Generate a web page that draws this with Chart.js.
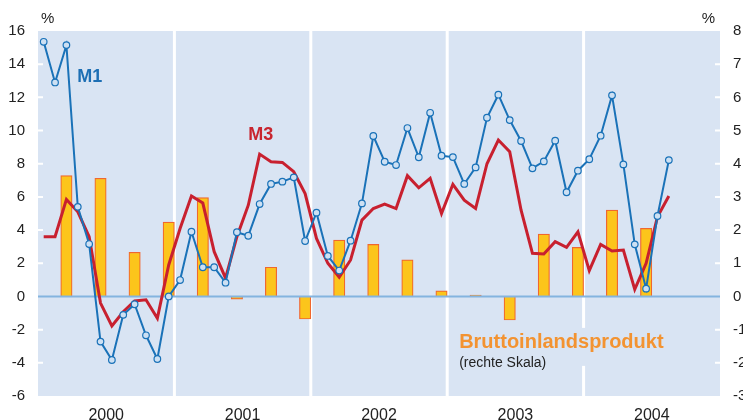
<!DOCTYPE html>
<html>
<head>
<meta charset="utf-8">
<script src="https://cdn.jsdelivr.net/npm/chart.js@4.4.1/dist/chart.umd.min.js"></script>
<style>
  html, body { margin: 0; padding: 0; background: #fff; }
  #wrap { width: 743px; height: 420px; }
</style>
</head>
<body>
<div id="wrap"><canvas id="chart"></canvas></div>
<script>
// years on the x axis (monthly categories, Jan 2000 - Dec 2004)
const years = ["2000", "2001", "2002", "2003", "2004"];
const months = ["Jan", "Feb", "Mär", "Apr", "Mai", "Jun", "Jul", "Aug", "Sep", "Okt", "Nov", "Dez"];

// M1 growth, % (left scale), Jan 2000 - Aug 2004
const m1 = [
  15.35, 12.9, 15.15, 5.4, 3.16, -2.72, -3.83, -1.11, -0.47, -2.34, -3.77, 0.0,
  0.99, 3.9, 1.76, 1.76, 0.83, 3.87, 3.66, 5.57, 6.78, 6.92, 7.18, 3.34,
  5.05, 2.44, 1.56, 3.36, 5.61, 9.67, 8.12, 7.92, 10.15, 8.39, 11.07, 8.48,
  8.4, 6.78, 7.78, 10.77, 12.16, 10.63, 9.37, 7.72, 8.14, 9.39, 6.28, 7.58,
  8.27, 9.69, 12.12, 7.96, 3.14, 0.47, 4.85, 8.22
];

// M3 growth, % (left scale), Jan 2000 - Aug 2004
const m3 = [
  3.6, 3.6, 5.85, 5.1, 3.6, -0.4, -1.78, -0.92, -0.27, -0.2, -1.32, 1.9,
  4.1, 6.05, 5.63, 2.7, 1.1, 3.6, 5.5, 8.58, 8.12, 8.08, 7.52, 6.2,
  3.5, 2.0, 1.16, 2.2, 4.6, 5.3, 5.57, 5.3, 7.28, 6.55, 7.12, 5.0,
  6.76, 5.8, 5.3, 8.0, 9.43, 8.72, 5.2, 2.6, 2.56, 3.3, 2.96, 3.9,
  1.56, 3.14, 2.74, 2.8, 0.43, 2.0, 4.8, 6.05
];

// GDP growth, % (right scale), quarterly Q1 2000 - Q2 2004
const gdp = [
  3.64, 3.56, 1.33, 2.24,
  2.98, -0.08, 0.88, -0.68,
  1.7, 1.57, 1.1, 0.17,
  0.04, -0.71, 1.88, 1.48,
  2.6, 2.05
];

const leftTicks = [-6, 16, 2];
const rightTicks = [-3, 8, 1];

const labels = [];
years.forEach(y => months.forEach(m => labels.push(m + " " + y)));

// bar of each quarter sits on its last month
const gdpByMonth = labels.map((_, i) => (i % 3 === 2 && gdp[(i - 2) / 3] !== undefined) ? gdp[(i - 2) / 3] : null);

const BG = "#d9e4f3";
const FONT = "'Liberation Sans', Arial, sans-serif";

const panels = {
  id: "panels",
  beforeDatasetsDraw(chart) {
    const { ctx, chartArea: a, scales } = chart;
    ctx.save();
    ctx.fillStyle = BG;
    ctx.fillRect(a.left, a.top, a.right - a.left, a.bottom - a.top);

    // white year separators
    ctx.strokeStyle = "#fff";
    ctx.lineWidth = 3;
    for (let k = 1; k < years.length; k++) {
      const x = scales.years.getPixelForValue(k * 12);
      ctx.beginPath();
      ctx.moveTo(x, a.top);
      ctx.lineTo(x, a.bottom);
      ctx.stroke();
    }

    // white tick stubs inside the plot
    ctx.lineWidth = 2;
    scales.y.ticks.forEach(t => {
      const y = scales.y.getPixelForValue(t.value);
      if (t.value === leftTicks[0] || t.value === leftTicks[1] || t.value === 0) return;
      ctx.beginPath();
      ctx.moveTo(a.left, y);
      ctx.lineTo(a.left + 5, y);
      ctx.moveTo(a.right - 5, y);
      ctx.lineTo(a.right, y);
      ctx.stroke();
    });
    ctx.restore();
  },
  afterDatasetDraw(chart, args) {
    // zero line right after the bars
    if (args.index !== 2) return;
    const { ctx, chartArea: a, scales } = chart;
    const y0 = scales.y.getPixelForValue(0);
    ctx.save();
    ctx.strokeStyle = "#84b4df";
    ctx.lineWidth = 2;
    ctx.beginPath();
    ctx.moveTo(a.left, y0);
    ctx.lineTo(a.right, y0);
    ctx.stroke();
    ctx.restore();
  },
  afterDraw(chart) {
    const { ctx, chartArea: a, scales } = chart;
    const xs = scales.years, ys = scales.y;
    ctx.save();
    ctx.textBaseline = "alphabetic";

    // unit labels
    ctx.font = "15px " + FONT;
    ctx.fillStyle = "#222";
    ctx.textAlign = "left";
    ctx.fillText("%", a.left + 3, 23);
    ctx.textAlign = "right";
    ctx.fillText("%", a.right - 5, 23);

    // series names
    ctx.textAlign = "left";
    ctx.font = "bold 18px " + FONT;
    ctx.fillStyle = "#1d6fb4";
    ctx.fillText("M1", xs.getPixelForValue(3.45), ys.getPixelForValue(12.95));
    ctx.fillStyle = "#c8252f";
    ctx.fillText("M3", xs.getPixelForValue(18.5), ys.getPixelForValue(9.45));

    // GDP label with its own patch of background
    const bx = xs.getPixelForValue(37.05);
    const by = ys.getPixelForValue(-3.1);
    ctx.font = "bold 20px " + FONT;
    const w = ctx.measureText("Bruttoinlandsprodukt").width;
    ctx.fillStyle = BG;
    ctx.fillRect(bx - 2, by - 20, w + 4, 38);
    ctx.fillStyle = "#f39331";
    ctx.fillText("Bruttoinlandsprodukt", bx, by);
    ctx.font = "14px " + FONT;
    ctx.fillStyle = "#222";
    ctx.fillText("(rechte Skala)", bx, by + 19);
    ctx.restore();
  }
};

new Chart(document.getElementById("chart"), {
  type: "bar",
  data: {
    labels: labels,
    datasets: [
      {
        type: "line",
        label: "M1",
        data: m1,
        yAxisID: "y",
        borderColor: "#1a72b8",
        borderWidth: 2,
        pointRadius: 3.3,
        pointBorderWidth: 1.2,
        pointBackgroundColor: "#cde0f3",
        pointBorderColor: "#1a72b8",
        tension: 0
      },
      {
        type: "line",
        label: "M3",
        data: m3,
        yAxisID: "y",
        borderColor: "#c8202f",
        borderWidth: 3,
        pointRadius: 0,
        tension: 0
      },
      {
        label: "Bruttoinlandsprodukt",
        data: gdpByMonth,
        yAxisID: "y2",
        backgroundColor: "#fcc51b",
        borderColor: "#f0672e",
        borderWidth: 1.2,
        barPercentage: 1,
        categoryPercentage: 1
      }
    ]
  },
  options: {
    responsive: true,
    maintainAspectRatio: false,
    animation: false,
    layout: { padding: { top: 31, left: 0, right: 0, bottom: 0 } },
    plugins: { legend: { display: false }, tooltip: { enabled: false } },
    scales: {
      x: { type: "category", display: false, offset: true },
      years: {
        type: "linear",
        position: "bottom",
        offset: false,
        min: 0,
        max: years.length * 12,
        grid: { display: false, drawTicks: false, offset: false },
        border: { display: false },
        afterBuildTicks: s => { s.ticks = years.map((_, k) => ({ value: k * 12 + 6 })); },
        afterFit: s => { s.height = 24; },
        ticks: {
          autoSkip: false,
          maxRotation: 0,
          padding: 10,
          color: "#222",
          font: { family: FONT, size: 16 },
          callback: (v, i) => years[i]
        }
      },
      y: {
        position: "left",
        min: leftTicks[0],
        max: leftTicks[1],
        grid: { display: false, drawTicks: false },
        border: { display: false },
        afterFit: s => { s.width = 38; },
        ticks: { stepSize: leftTicks[2], padding: 13, color: "#222", font: { family: FONT, size: 15 } }
      },
      y2: {
        position: "right",
        min: rightTicks[0],
        max: rightTicks[1],
        grid: { display: false, drawTicks: false },
        border: { display: false },
        afterFit: s => { s.width = 23; },
        ticks: { stepSize: rightTicks[2], padding: 13, color: "#222", font: { family: FONT, size: 15 } }
      }
    }
  },
  plugins: [panels]
});
</script>
</body>
</html>
